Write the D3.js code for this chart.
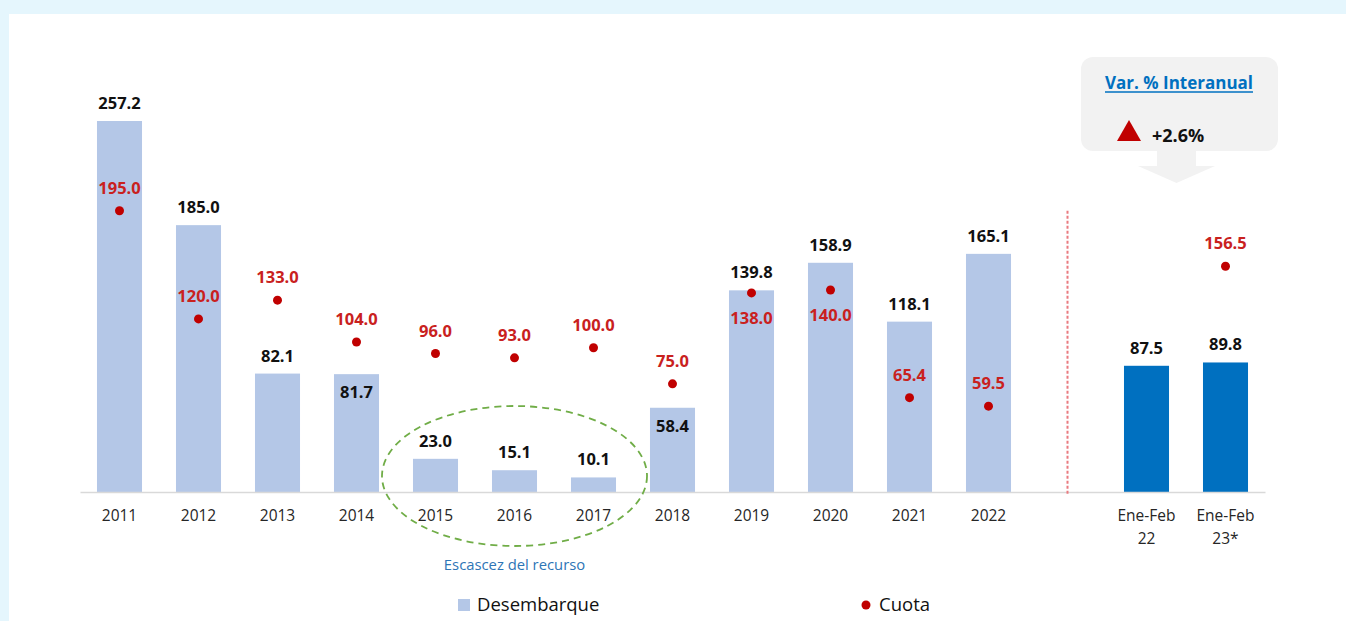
<!DOCTYPE html>
<html>
<head>
<meta charset="utf-8">
<script src="https://cdn.jsdelivr.net/npm/d3@7"></script>
<style>
  body { margin: 0; background: #e5f6fd; }
  svg { display: block; font-family: 'Open Sans', sans-serif; }
</style>
</head>
<body>
<svg id="chart" width="1346" height="621"></svg>
<script>
// annual series
const years = ['2011', '2012', '2013', '2014', '2015', '2016', '2017', '2018', '2019', '2020', '2021', '2022']
const landing = [257.2, 185.0, 82.1, 81.7, 23.0, 15.1, 10.1, 58.4, 139.8, 158.9, 118.1, 165.1]
const quota = [195.0, 120.0, 133.0, 104.0, 96.0, 93.0, 100.0, 75.0, 138.0, 140.0, 65.4, 59.5]

// Jan-Feb comparison
const periods = ['Ene-Feb 22', 'Ene-Feb 23*']
const periodLanding = [87.5, 89.8]
const periodQuota = [null, 156.5]

const variation = '+2.6%'
const legendLabels = ['Desembarque', 'Cuota']
const scarcityLabel = 'Escascez del recurso'
const scarcityYears = ['2015', '2017']

// label placement tweaks
const landingInside = new Set(['2014', '2018'])
const quotaBelow = new Set(['2019', '2020'])

const GAP = 'gap'
const keys = [...years, GAP, ...periods]

const bars = [
  ...years.map((k, i) => ({ key: k, value: landing[i], dark: false })),
  ...periods.map((k, i) => ({ key: k, value: periodLanding[i], dark: true }))
]
const dots = [
  ...years.map((k, i) => ({ key: k, value: quota[i] })),
  ...periods.map((k, i) => ({ key: k, value: periodQuota[i] }))
].filter(d => d.value != null)

const svg = d3.select('#chart')

// white panel
svg.append('rect')
  .attr('x', 9).attr('y', 14)
  .attr('width', 1337).attr('height', 607)
  .attr('fill', '#ffffff')

const x = d3.scaleBand()
  .domain(keys)
  .range([80, 1265])
  .paddingInner(0.43)
  .paddingOuter(0.215)

const y = d3.scaleLinear()
  .domain([0, 257.2])
  .range([492, 121])

const cx = k => x(k) + x.bandwidth() / 2

// bars
svg.append('g')
  .selectAll('rect')
  .data(bars)
  .join('rect')
  .attr('x', d => x(d.key))
  .attr('y', d => y(d.value))
  .attr('width', x.bandwidth())
  .attr('height', d => y(0) - y(d.value))
  .attr('fill', d => d.dark ? '#0070c0' : '#b4c7e7')

// axis line
const axis = svg.append('g')
  .attr('transform', `translate(0,${y(0)})`)
  .call(d3.axisBottom(x).tickSize(0).tickFormat(''))
axis.select('.domain').attr('stroke', '#d9d9d9').attr('stroke-width', 1.5)

// category labels
svg.append('g')
  .selectAll('text')
  .data(keys.filter(k => k !== GAP))
  .join('text')
  .attr('x', d => cx(d))
  .attr('y', y(0) + 29)
  .attr('text-anchor', 'middle')
  .attr('font-size', 15.5)
  .attr('fill', '#262626')
  .each(function(d) {
    const parts = d.split(' ')
    d3.select(this).selectAll('tspan')
      .data(parts)
      .join('tspan')
      .attr('x', cx(d))
      .attr('dy', (p, i) => i === 0 ? 0 : 23)
      .text(p => p)
  })

// separator
svg.append('line')
  .attr('x1', cx(GAP)).attr('x2', cx(GAP))
  .attr('y1', y(195)).attr('y2', y(0) + 3)
  .attr('stroke', '#ea7b80')
  .attr('stroke-width', 2)
  .attr('stroke-dasharray', '3,2')

// landing value labels
svg.append('g')
  .selectAll('text')
  .data(bars)
  .join('text')
  .attr('x', d => cx(d.key))
  .attr('y', d => landingInside.has(d.key) ? y(d.value) + 24 : y(d.value) - 12)
  .attr('text-anchor', 'middle')
  .attr('font-size', 16.5)
  .attr('font-weight', 700)
  .attr('fill', '#111111')
  .text(d => d.value.toFixed(1))

// quota dots
svg.append('g')
  .selectAll('circle')
  .data(dots)
  .join('circle')
  .attr('cx', d => cx(d.key))
  .attr('cy', d => y(d.value))
  .attr('r', 4.5)
  .attr('fill', '#c00000')

svg.append('g')
  .selectAll('text')
  .data(dots)
  .join('text')
  .attr('x', d => cx(d.key))
  .attr('y', d => quotaBelow.has(d.key) ? y(d.value) + 31 : y(d.value) - 17)
  .attr('text-anchor', 'middle')
  .attr('font-size', 16.5)
  .attr('font-weight', 700)
  .attr('fill', '#c9211e')
  .text(d => d.value.toFixed(1))

// scarcity ellipse
const e0 = x(scarcityYears[0]), e1 = x(scarcityYears[1]) + x.bandwidth()
svg.append('ellipse')
  .attr('cx', (e0 + e1) / 2)
  .attr('cy', 476)
  .attr('rx', (e1 - e0) / 2 + 31)
  .attr('ry', 70)
  .attr('fill', 'none')
  .attr('stroke', '#70ad47')
  .attr('stroke-width', 1.8)
  .attr('stroke-dasharray', '7,5')

svg.append('text')
  .attr('x', (e0 + e1) / 2)
  .attr('y', 570)
  .attr('text-anchor', 'middle')
  .attr('font-size', 14.8)
  .attr('fill', '#2e75b6')
  .text(scarcityLabel)

// legend
const legend = svg.append('g')
legend.append('rect')
  .attr('x', 458).attr('y', 599).attr('width', 12).attr('height', 12)
  .attr('fill', '#b4c7e7')
legend.append('text')
  .attr('x', 477).attr('y', 611)
  .attr('font-size', 18.5).attr('fill', '#111111')
  .text(legendLabels[0])
legend.append('circle')
  .attr('cx', 866).attr('cy', 605).attr('r', 4.5)
  .attr('fill', '#c00000')
legend.append('text')
  .attr('x', 879).attr('y', 611)
  .attr('font-size', 18.5).attr('fill', '#111111')
  .text(legendLabels[1])

// variation callout
const callout = svg.append('g')
callout.append('rect')
  .attr('x', 1081).attr('y', 57)
  .attr('width', 197).attr('height', 94)
  .attr('rx', 12)
  .attr('fill', '#f2f2f2')
callout.append('path')
  .attr('d', 'M1157,150 L1196,150 L1196,166 L1215,166 L1176.5,183 L1138,166 L1157,166 Z')
  .attr('fill', '#f2f2f2')
const head = callout.append('text')
  .attr('x', 1179).attr('y', 89)
  .attr('text-anchor', 'middle')
  .attr('font-size', 17)
  .attr('font-weight', 700)
  .attr('fill', '#0070c0')
  .text('Var. % Interanual')
const hb = head.node().getBBox()
callout.append('line')
  .attr('x1', hb.x).attr('x2', hb.x + hb.width)
  .attr('y1', 92).attr('y2', 92)
  .attr('stroke', '#0070c0').attr('stroke-width', 1.5)
callout.append('path')
  .attr('d', 'M1117,141 L1129,120 L1141,141 Z')
  .attr('fill', '#c00000')
callout.append('text')
  .attr('x', 1152).attr('y', 142)
  .attr('font-size', 18)
  .attr('font-weight', 700)
  .attr('fill', '#111111')
  .text(variation)
</script>
</body>
</html>
